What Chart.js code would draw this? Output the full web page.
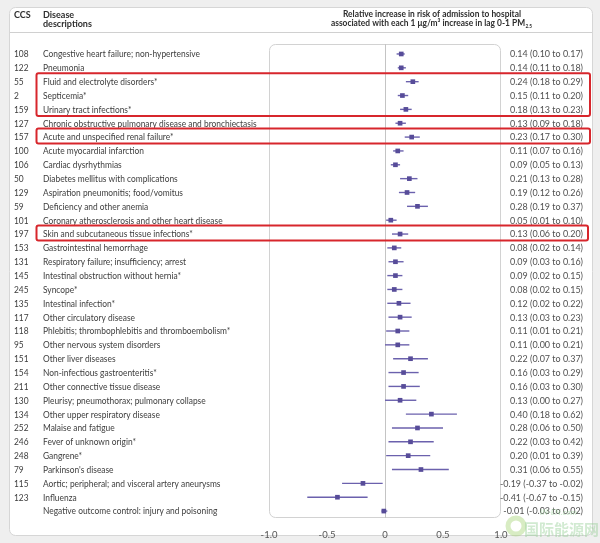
<!DOCTYPE html>
<html><head><meta charset="utf-8">
<script src="https://cdn.jsdelivr.net/npm/chart.js@4/dist/chart.umd.min.js"></script>
<style>html,body{margin:0;padding:0;background:#efefef;}#wrap{width:600px;height:543px;}</style>
</head><body><div id="wrap"><canvas id="c" width="600" height="543"></canvas></div>
<script>
const ccs = ['108','122','55','2','159','127','157','100','106','50','129','59','101','197','153','131','145','245','135','117','118','95','151','154','211','130','134','252','246','248','79','115','123',''];
const descriptions = [
 'Congestive heart failure; non-hypertensive','Pneumonia','Fluid and electrolyte disorders*','Septicemia*','Urinary tract infections*',
 'Chronic obstructive pulmonary disease and bronchiectasis','Acute and unspecified renal failure*','Acute myocardial infarction','Cardiac dysrhythmias',
 'Diabetes mellitus with complications','Aspiration pneumonitis; food/vomitus','Deficiency and other anemia','Coronary atherosclerosis and other heart disease',
 'Skin and subcutaneous tissue infections*','Gastrointestinal hemorrhage','Respiratory failure; insufficiency; arrest','Intestinal obstruction without hernia*',
 'Syncope*','Intestinal infection*','Other circulatory disease','Phlebitis; thrombophlebitis and thromboembolism*','Other nervous system disorders',
 'Other liver diseases','Non-infectious gastroenteritis*','Other connective tissue disease','Pleurisy; pneumothorax; pulmonary collapse',
 'Other upper respiratory disease','Malaise and fatigue','Fever of unknown origin*','Gangrene*',"Parkinson's disease",
 'Aortic; peripheral; and visceral artery aneurysms','Influenza','Negative outcome control: injury and poisoning'];
const estimates = [0.14,0.14,0.24,0.15,0.18,0.13,0.23,0.11,0.09,0.21,0.19,0.28,0.05,0.13,0.08,0.09,0.09,0.08,0.12,0.13,0.11,0.11,0.22,0.16,0.16,0.13,0.40,0.28,0.22,0.20,0.31,-0.19,-0.41,-0.01];
const lower = [0.10,0.11,0.18,0.11,0.13,0.09,0.17,0.07,0.05,0.13,0.12,0.19,0.01,0.06,0.02,0.03,0.02,0.02,0.02,0.03,0.01,0.00,0.07,0.03,0.03,0.00,0.18,0.06,0.03,0.01,0.06,-0.37,-0.67,-0.03];
const upper = [0.17,0.18,0.29,0.20,0.23,0.18,0.30,0.16,0.13,0.28,0.26,0.37,0.10,0.20,0.14,0.16,0.15,0.15,0.22,0.23,0.21,0.21,0.37,0.29,0.30,0.27,0.62,0.50,0.42,0.39,0.55,-0.02,-0.15,0.02];
const xTickLabels = ['-1.0','-0.5','0','0.5','1.0'];
const highlightGroups = [[2,4],[6,6],[13,13]];

const FONT = "'Lato','Noto Sans',sans-serif";
const INK = '#3d3d3d', MARK = '#574c99';
const fmt = v => v.toFixed(2);

function rr(ctx,x,y,w,h,r){ctx.beginPath();ctx.moveTo(x+r,y);ctx.arcTo(x+w,y,x+w,y+h,r);ctx.arcTo(x+w,y+h,x,y+h,r);ctx.arcTo(x,y+h,x,y,r);ctx.arcTo(x,y,x+w,y,r);ctx.closePath();}
function fitText(ctx,str,x,y,sx,align){
  ctx.save();ctx.translate(x,y);ctx.scale(sx,1);ctx.textAlign=align;ctx.fillText(str,0,0);ctx.restore();
}

const frame = {
  id:'frame',
  beforeDraw(chart){
    const ctx=chart.ctx, a=chart.chartArea, xs=chart.scales.x;
    ctx.save();
    ctx.fillStyle='#efefef';ctx.fillRect(0,0,chart.width,chart.height);
    rr(ctx,9.5,7.5,583,528,6);ctx.fillStyle='#fff';ctx.fill();ctx.strokeStyle='#d6d6d6';ctx.lineWidth=1;ctx.stroke();
    ctx.beginPath();ctx.moveTo(10,32.5);ctx.lineTo(592,32.5);ctx.strokeStyle='#d0d0d0';ctx.stroke();
    rr(ctx,a.left+0.5,a.top+0.5,a.right-a.left-1,a.bottom-a.top-1,6);ctx.strokeStyle='#d2d2d2';ctx.stroke();
    const x0=Math.round(xs.getPixelForValue(0))+0.5;
    ctx.beginPath();ctx.moveTo(x0,a.top);ctx.lineTo(x0,a.bottom);ctx.strokeStyle='#c4c4c4';ctx.stroke();
    // header
    ctx.fillStyle='#2e2e2e';ctx.textBaseline='middle';
    ctx.font='bold 9px '+FONT;
    const t1='Relative increase in risk of admission to hospital';
    const hs=Math.min(1,178/ctx.measureText(t1).width);
    fitText(ctx,'CCS',14,15,1,'left');
    fitText(ctx,'Disease',43,15,1,'left');
    fitText(ctx,'descriptions',43,24,1,'left');
    fitText(ctx,t1,432,14.5,hs,'center');
    const l2='associated with each 1 \u03bcg/m\u00b3 increase in lag 0-1 PM';
    ctx.save();ctx.translate(428,23.5);ctx.scale(hs,1);
    const w2=ctx.measureText(l2).width;
    ctx.textAlign='left';ctx.fillText(l2,-w2/2,0);
    ctx.font='bold 5px '+FONT;ctx.fillText('2.5',w2/2+0.5,3);
    ctx.restore();
    ctx.restore();
  },
  beforeDatasetsDraw(chart){
    const ctx=chart.ctx, xs=chart.scales.x, ys=chart.scales.y;
    ctx.save();ctx.strokeStyle='#6b61ad';ctx.lineWidth=1.4;
    lower.forEach((lo,i)=>{
      const y=ys.getPixelForValue(i);
      ctx.beginPath();ctx.moveTo(xs.getPixelForValue(lo),y);ctx.lineTo(xs.getPixelForValue(upper[i]),y);ctx.stroke();
    });
    ctx.restore();
  },
  afterDraw(chart){
    const ctx=chart.ctx, ys=chart.scales.y;
    ctx.save();ctx.textBaseline='middle';
    ctx.font='9px '+FONT;
    const sxL=157/ctx.measureText(descriptions[0]).width;
    const sxR=73/ctx.measureText('0.14 (0.10 to 0.17)').width;
    descriptions.forEach((d,i)=>{
      const y=ys.getPixelForValue(i)+0.5;
      ctx.fillStyle=INK;
      fitText(ctx,ccs[i],14,y,sxL,'left');
      fitText(ctx,d,43,y,sxL,'left');
      ctx.fillStyle='#505050';
      fitText(ctx,fmt(estimates[i])+' ('+fmt(lower[i])+' to '+fmt(upper[i])+')',583,y,sxR,'right');
    });
    ctx.strokeStyle='#d7262c';ctx.lineWidth=2;
    highlightGroups.forEach(([s,e],k)=>{
      const t=ys.getPixelForValue(s)-8.5, b=ys.getPixelForValue(e)+6.5;
      const right = k===2?588:590;
      rr(ctx,36.5,t,right-36.5,b-t,2);ctx.stroke();
    });
    // watermark
    ctx.globalAlpha=0.45;
    ctx.beginPath();ctx.arc(516,526,8,0,Math.PI*2);ctx.strokeStyle='#a8d47a';ctx.lineWidth=5;ctx.stroke();
    ctx.fillStyle='#9ad09a';ctx.font='bold italic 8px '+FONT;ctx.textAlign='left';ctx.fillText('IN-EN.com',540,512);
    ctx.font='bold 15px "Noto Sans CJK SC"';ctx.fillText('\u56fd\u9645\u80fd\u6e90\u7f51',524,529);
    ctx.restore();
  }
};

const ctx0=document.getElementById('c').getContext('2d');
new Chart(ctx0,{
  type:'scatter',
  data:{datasets:[{data:estimates.map((e,i)=>({x:e,y:i})),pointStyle:'rect',pointRadius:3.3,pointHoverRadius:3.3,backgroundColor:MARK,borderWidth:0}]},
  options:{
    responsive:false,animation:false,devicePixelRatio:1,
    layout:{padding:{left:269,right:99,top:44,bottom:0}},
    plugins:{legend:{display:false},tooltip:{enabled:false}},
    scales:{
      x:{type:'linear',min:-1,max:1,grid:{display:false},border:{display:false},
         afterFit(s){s.height=25;},
         ticks:{stepSize:0.5,autoSkip:false,maxRotation:0,padding:3,color:'#555',font:{size:9.5,family:FONT},
                callback:(v,i)=>xTickLabels[i]}},
      y:{type:'linear',reverse:true,min:-0.72,max:33.5,display:false}
    }
  },
  plugins:[frame]
});
</script></body></html>
